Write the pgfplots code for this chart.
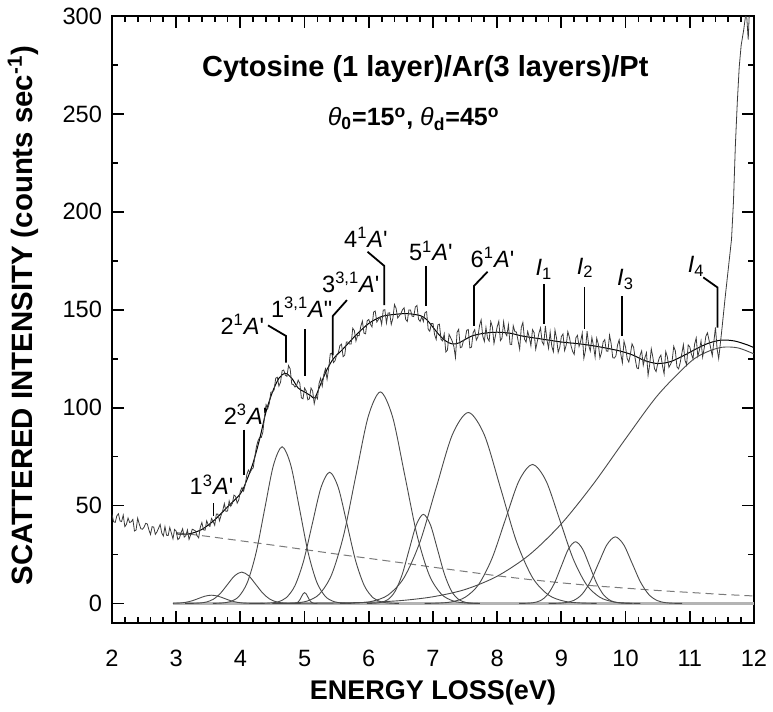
\documentclass[border=0pt]{standalone}
\usepackage{pgfplots}
\pgfplotsset{compat=1.18}
\usepackage{fontspec}
\setmainfont{Liberation Sans}[Ligatures=TeXOff]
\definecolor{datac}{HTML}{3A3A3A}
\definecolor{gc}{HTML}{4A4A4A}
\definecolor{bgc}{HTML}{7A7A7A}
\definecolor{basec}{HTML}{B4B4B4}
\newcommand{\lab}{\fontsize{11.8}{13}\selectfont}
\begin{document}
\begin{tikzpicture}
\useasboundingbox (-56pt,-44.5pt) rectangle (330.5pt,311.5pt);
\begin{axis}[
  at={(0,0)}, anchor=south west,
  scale only axis, width=321pt, height=303.5pt,
  xmin=2, xmax=12, ymin=-10, ymax=300,
  xtick={2,3,...,12}, minor x tick num=4,
  ytick={0,50,...,300}, minor y tick num=1,
  tick align=inside, tick pos=both,
  xticklabel pos=lower, yticklabel pos=left,
  major tick length=6pt, minor tick length=3.2pt,
  every tick/.append style={line width=0.9pt, black},
  axis line style={line width=1.2pt},
  /pgf/number format/assume math mode=true,
  tick label style={font=\fontsize{11.8}{13}\selectfont},
  xticklabel style={anchor=base, yshift=-22pt},
  yticklabel style={xshift=-1.5pt},
  xlabel={\bfseries ENERGY LOSS(eV)},
  ylabel={\bfseries SCATTERED INTENSITY (counts sec\textsuperscript{-1})},
  every axis x label/.style={at={(axis description cs:0.5,0)}, anchor=base, yshift=-38.5pt, font=\fontsize{13.5}{15}\selectfont},
  every axis y label/.style={at={(axis description cs:0,0.5)}, xshift=-44.5pt, yshift=2pt, rotate=90, anchor=center, font=\fontsize{14.7}{16}\selectfont},
  clip=true,
]
% baseline of components
\addplot[basec, line width=1.1pt] coordinates {(2.95,0) (12,0)};
% dashed background
\addplot[bgc, line width=0.5pt, dash pattern=on 4pt off 2.5pt] coordinates {
(3.0,36.2) (3.5,34.2) (4.0,32) (4.5,29.8) (5.0,27.5) (5.5,25.2) (6.0,23) (6.5,20.8) (7.0,18.5) (7.5,16.3) (8.0,14.1) (8.5,12.2) (9.0,10.5) (9.5,9) (10.0,7.8) (10.5,6.6) (11.0,5.6) (11.5,4.6) (12.0,3.8)};
% Gaussian components
\addplot[gc, line width=0.45pt, smooth] coordinates {
(2.95,0.05) (3.05,0.18) (3.15,0.57) (3.25,1.36) (3.35,2.55) (3.45,3.71) (3.55,4.2) (3.65,3.71) (3.75,2.55) (3.85,1.36) (3.95,0.57) (4.05,0.18) (4.15,0.05) (4.25,0.01) (4.35,0)};
\addplot[gc, line width=0.45pt, smooth] coordinates {
(3.14,0) (3.25,0.04) (3.36,0.18) (3.47,0.70) (3.58,2.16) (3.69,5.2) (3.80,9.7) (3.91,14.12) (4.02,16) (4.13,14.12) (4.24,9.7) (4.35,5.2) (4.46,2.16) (4.57,0.70) (4.68,0.18) (4.79,0.04) (4.90,0)};
\addplot[gc, line width=0.45pt, smooth] coordinates {
(3.57,0.02) (3.705,0.18) (3.84,0.89) (3.975,3.51) (4.11,10.82) (4.245,25.98) (4.38,48.52) (4.515,70.6) (4.65,80) (4.785,70.6) (4.92,48.52) (5.055,25.98) (5.19,10.82) (5.325,3.51) (5.46,0.89) (5.595,0.18) (5.73,0.02)};
\addplot[gc, line width=0.45pt, smooth] coordinates {
(4.80,0) (4.85,0.06) (4.875,0.24) (4.9,0.74) (4.925,1.79) (4.95,3.34) (4.975,4.85) (5.0,5.5) (5.025,4.85) (5.05,3.34) (5.075,1.79) (5.1,0.74) (5.125,0.24) (5.15,0.06) (5.2,0)};
\addplot[gc, line width=0.45pt, smooth] coordinates {
(4.31,0.02) (4.445,0.15) (4.58,0.74) (4.715,2.94) (4.85,9.07) (4.985,21.75) (5.12,40.64) (5.255,59.13) (5.39,67) (5.525,59.13) (5.66,40.64) (5.795,21.75) (5.93,9.07) (6.065,2.94) (6.2,0.74) (6.335,0.15) (6.47,0.02)};
\addplot[gc, line width=0.45pt, smooth] coordinates {
(4.66,0.03) (4.85,0.24) (5.04,1.2) (5.23,4.74) (5.42,14.61) (5.61,35.07) (5.8,65.5) (5.99,95.31) (6.18,108) (6.37,95.31) (6.56,65.5) (6.75,35.07) (6.94,14.61) (7.13,4.74) (7.32,1.2) (7.51,0.24) (7.70,0.03)};
\addplot[gc, line width=0.45pt, smooth] coordinates {
(5.97,0.01) (6.08,0.1) (6.19,0.51) (6.30,2.0) (6.41,6.16) (6.52,14.77) (6.63,27.6) (6.74,40.15) (6.85,45.5) (6.96,40.15) (7.07,27.6) (7.18,14.77) (7.29,6.16) (7.40,2.0) (7.51,0.51) (7.62,0.1) (7.73,0.01)};
\addplot[gc, line width=0.45pt, smooth] coordinates {
(5.55,0.03) (5.8,0.21) (6.05,1.08) (6.3,4.28) (6.55,13.19) (6.8,31.66) (7.05,59.13) (7.3,86.04) (7.55,97.5) (7.8,86.04) (8.05,59.13) (8.3,31.66) (8.55,13.19) (8.8,4.28) (9.05,1.08) (9.3,0.21) (9.55,0.03)};
\addplot[gc, line width=0.45pt, smooth] coordinates {
(6.87,0.02) (7.08,0.16) (7.29,0.79) (7.5,3.12) (7.71,9.61) (7.92,23.05) (8.13,43.06) (8.34,62.66) (8.55,71) (8.76,62.66) (8.97,43.06) (9.18,23.05) (9.39,9.61) (9.6,3.12) (9.81,0.79) (10.02,0.16) (10.23,0.02)};
\addplot[gc, line width=0.45pt, smooth] coordinates {
(8.34,0.01) (8.45,0.07) (8.56,0.35) (8.67,1.38) (8.78,4.26) (8.89,10.23) (9.0,19.1) (9.11,27.8) (9.22,31.5) (9.33,27.8) (9.44,19.1) (9.55,10.23) (9.66,4.26) (9.77,1.38) (9.88,0.35) (9.99,0.07) (10.10,0.01)};
\addplot[gc, line width=0.45pt, smooth] coordinates {
(8.8,0.01) (8.93,0.07) (9.06,0.38) (9.19,1.49) (9.32,4.6) (9.45,11.04) (9.58,20.62) (9.71,30.0) (9.84,34) (9.97,30.0) (10.1,20.62) (10.23,11.04) (10.36,4.6) (10.49,1.49) (10.62,0.38) (10.75,0.07) (10.88,0.01)};
\addplot[gc, line width=0.45pt, smooth] coordinates {
(4.5,0) (5.0,0.07) (5.5,0.21) (6.0,0.58) (6.5,1.45) (7.0,3.4) (7.5,7.1) (8.0,13.9) (8.5,24.8) (9.0,40.7) (9.5,61.1) (10.0,84.1) (10.5,106.3) (11.0,123.1) (11.25,128.2) (11.5,130.8) (11.75,130.5) (12.0,127.4)};
% fit
\addplot[black, line width=0.5pt, smooth] coordinates {
(3.0,35.5) (3.2,35.5) (3.4,37.8) (3.6,42.7) (3.8,49.3) (4.0,56) (4.1,63) (4.2,72) (4.3,84) (4.4,98) (4.5,108) (4.6,115) (4.7,117.5) (4.8,115) (4.9,110) (5.0,108) (5.1,106) (5.16,105) (5.25,112) (5.35,119.5) (5.45,125) (5.6,130) (5.8,137) (6.0,143) (6.2,146.5) (6.4,147.6) (6.6,148) (6.8,147) (6.9,145) (7.0,141) (7.1,137) (7.2,134) (7.3,132.5) (7.4,133) (7.6,136.5) (7.8,138) (8.0,138.5) (8.2,138) (8.4,136.5) (8.7,135) (9.0,133.5) (9.3,132.5) (9.6,131) (9.9,129) (10.1,127) (10.3,124) (10.5,122.5) (10.7,123.5) (10.9,126.5) (11.1,130) (11.3,133) (11.5,134.5) (11.7,134) (11.9,132) (12.0,130.6)};
% measured spectrum
\addplot[datac, line width=0.4pt] table {
2.000 45.4
2.025 41.7
2.050 41.4
2.075 44.7
2.100 45.8
2.125 42.1
2.150 41.8
2.175 45.1
2.200 39.2
2.225 40.4
2.250 43.6
2.275 41.3
2.300 41.7
2.325 42.9
2.350 37.0
2.375 37.5
2.400 43.5
2.425 40.5
2.450 38.1
2.475 37.9
2.500 39.0
2.525 40.9
2.550 40.6
2.575 37.6
2.600 35.2
2.625 39.2
2.650 39.0
2.675 35.3
2.700 36.5
2.725 38.4
2.750 40.3
2.775 36.0
2.800 34.4
2.825 39.2
2.850 34.8
2.875 34.7
2.900 38.8
2.925 35.9
2.950 33.0
2.975 37.8
3.000 36.9
3.025 32.6
3.050 33.3
3.075 36.1
3.100 38.1
3.125 33.9
3.150 34.6
3.175 37.5
3.200 32.7
3.225 35.0
3.250 37.9
3.275 37.5
3.300 37.0
3.325 34.6
3.350 33.5
3.375 38.8
3.400 41.3
3.425 37.6
3.450 37.4
3.475 42.2
3.500 40.0
3.525 39.3
3.550 43.4
3.575 42.0
3.600 39.9
3.625 45.6
3.650 45.6
3.675 42.2
3.700 45.1
3.725 47.4
3.750 51.0
3.775 47.0
3.800 47.2
3.825 52.3
3.850 49.6
3.875 51.1
3.900 55.3
3.925 54.7
3.950 51.2
3.975 52.9
4.000 57.4
4.025 59.2
4.050 57.4
4.075 60.6
4.100 65.8
4.125 68.1
4.150 66.8
4.175 68.4
4.200 69.2
4.225 75.0
4.250 80.1
4.275 83.1
4.300 84.7
4.325 84.7
4.350 87.5
4.375 95.2
4.400 101.5
4.425 99.4
4.450 102.1
4.475 107.9
4.500 108.0
4.525 109.0
4.550 115.0
4.575 115.5
4.600 111.0
4.625 112.9
4.650 118.8
4.675 119.2
4.700 116.5
4.725 116.0
4.750 121.5
4.775 119.8
4.800 112.0
4.825 111.8
4.850 110.5
4.875 111.3
4.900 114.0
4.925 112.5
4.950 105.0
4.975 104.5
5.000 110.0
5.025 108.5
5.050 104.0
5.075 104.5
5.100 110.0
5.125 108.5
5.150 102.0
5.175 105.8
5.200 104.5
5.225 112.3
5.250 115.0
5.275 111.0
5.300 117.0
5.325 119.8
5.350 114.5
5.375 120.0
5.400 127.5
5.425 127.8
5.450 123.0
5.475 124.0
5.500 127.0
5.525 127.9
5.550 131.7
5.575 132.4
5.600 126.0
5.625 126.8
5.650 133.5
5.675 133.5
5.700 132.5
5.725 132.5
5.750 140.5
5.775 139.3
5.800 134.0
5.825 136.9
5.850 136.7
5.875 141.5
5.900 144.2
5.925 138.0
5.950 137.7
5.975 144.4
6.000 145.0
6.025 142.6
6.050 141.2
6.075 148.8
6.100 149.3
6.125 143.7
6.150 145.0
6.175 146.3
6.200 142.5
6.225 149.8
6.250 150.0
6.275 143.2
6.300 148.3
6.325 148.4
6.350 142.5
6.375 145.6
6.400 152.6
6.425 150.7
6.450 145.8
6.475 146.9
6.500 148.0
6.525 150.0
6.550 151.0
6.575 145.0
6.600 144.0
6.625 149.9
6.650 149.8
6.675 146.7
6.700 146.5
6.725 151.4
6.750 152.2
6.775 145.1
6.800 144.0
6.825 146.5
6.850 144.0
6.875 148.5
6.900 149.0
6.925 140.0
6.950 139.0
6.975 143.0
7.000 143.0
7.025 137.2
7.050 134.8
7.075 142.2
7.100 142.6
7.125 134.9
7.150 134.1
7.175 137.6
7.200 128.4
7.225 129.4
7.250 137.4
7.275 135.7
7.300 133.9
7.325 131.2
7.350 125.6
7.375 138.4
7.400 140.0
7.425 130.6
7.450 131.0
7.475 134.3
7.500 134.8
7.525 139.5
7.550 139.9
7.575 130.5
7.600 130.9
7.625 138.2
7.650 139.8
7.675 134.5
7.700 136.1
7.725 141.9
7.750 144.8
7.775 136.5
7.800 133.8
7.825 140.9
7.850 135.4
7.875 134.0
7.900 143.9
7.925 141.2
7.950 132.8
7.975 137.1
8.000 141.3
8.025 144.1
8.050 134.2
8.075 135.5
8.100 143.8
8.125 138.2
8.150 136.7
8.175 142.3
8.200 132.4
8.225 132.2
8.250 141.8
8.275 138.8
8.300 138.6
8.325 134.2
8.350 129.8
8.375 140.9
8.400 143.5
8.425 135.0
8.450 133.4
8.475 138.9
8.500 135.9
8.525 131.6
8.550 139.8
8.575 138.3
8.600 129.8
8.625 133.9
8.650 138.0
8.675 140.7
8.700 133.6
8.725 132.1
8.750 141.7
8.775 134.6
8.800 130.3
8.825 138.6
8.850 131.4
8.875 128.5
8.900 139.6
8.925 135.3
8.950 128.2
8.975 130.9
9.000 136.3
9.025 137.6
9.050 129.1
9.075 131.9
9.100 138.8
9.125 135.9
9.150 131.6
9.175 128.7
9.200 127.2
9.225 135.6
9.250 136.9
9.275 131.2
9.300 133.9
9.325 138.0
9.350 125.2
9.375 129.3
9.400 139.0
9.425 131.9
9.450 128.9
9.475 135.8
9.500 131.5
9.525 125.8
9.550 135.4
9.575 132.5
9.600 125.4
9.625 128.1
9.650 133.5
9.675 134.7
9.700 128.9
9.725 128.8
9.750 137.0
9.775 132.7
9.800 125.5
9.825 125.3
9.850 126.5
9.875 132.0
9.900 134.6
9.925 127.4
9.950 122.9
9.975 133.9
10.000 130.8
10.025 125.0
10.050 123.3
10.075 127.3
10.100 132.6
10.125 130.8
10.150 124.8
10.175 120.3
10.200 119.9
10.225 126.6
10.250 129.0
10.275 121.6
10.300 125.4
10.325 128.0
10.350 116.5
10.375 121.9
10.400 130.0
10.425 125.7
10.450 119.9
10.475 118.4
10.500 122.5
10.525 125.4
10.550 126.8
10.575 121.3
10.600 117.2
10.625 128.6
10.650 126.0
10.675 120.6
10.700 122.1
10.725 123.9
10.750 131.3
10.775 128.9
10.800 120.8
10.825 119.8
10.850 122.9
10.875 127.5
10.900 132.1
10.925 124.2
10.950 121.8
10.975 132.0
11.000 131.0
11.025 127.3
11.050 124.9
11.075 132.4
11.100 135.6
11.125 126.2
11.150 129.4
11.175 134.0
11.200 125.9
11.225 130.5
11.250 136.4
11.275 138.2
11.300 134.4
11.325 130.5
11.350 126.5
11.375 133.8
11.400 141.0
11.425 130.0
11.450 125.0
11.500 140.0
11.550 156.0
11.600 171.0
11.650 186.0
11.680 205.0
11.710 234.0
11.740 256.0
11.770 274.0
11.800 285.0
11.840 293.0
11.880 303.0
11.910 288.0
11.940 312.0
12.000 330.0
};
% titles
\node[anchor=base, font=\fontsize{14.5}{16}\selectfont\bfseries] at (axis cs:6.88,269.1) {Cytosine (1 layer)/Ar(3 layers)/Pt};
\node[anchor=base, font=\fontsize{12.5}{14}\selectfont\bfseries] at (axis cs:6.7,243.9) {\textmd{\textit{θ}}\textsubscript{0}=15\textsuperscript{o}, \textmd{\textit{θ}}\textsubscript{d}=45\textsuperscript{o}};
% state labels
\begin{scope}[line width=0.9pt]
\draw (axis cs:3.58,51.2) -- (axis cs:3.58,44.4);
\draw (axis cs:4.06,88.8) -- (axis cs:4.06,65.7);
\draw (axis cs:4.43,142) -- (axis cs:4.71,136.6) -- (axis cs:4.71,123);
\draw (axis cs:5.01,140) -- (axis cs:5.01,116.1);
\draw (axis cs:5.66,154.9) -- (axis cs:5.44,146.8) -- (axis cs:5.44,126.7);
\draw (axis cs:5.98,179.6) -- (axis cs:6.24,172.4) -- (axis cs:6.24,152.3);
\draw (axis cs:6.89,172.4) -- (axis cs:6.89,152);
\draw (axis cs:7.85,169.4) -- (axis cs:7.64,162.2) -- (axis cs:7.64,141.7);
\draw (axis cs:8.73,163) -- (axis cs:8.73,142.6);
\draw (axis cs:9.36,161.4) -- (axis cs:9.36,140);
\draw (axis cs:9.95,157) -- (axis cs:9.95,136.6);
\draw (axis cs:11.21,166.5) -- (axis cs:11.43,161.4) -- (axis cs:11.43,140.9);
\end{scope}
\node[anchor=base, inner sep=0pt, font=\lab] at (axis cs:3.55,55.5) {1\textsuperscript{3}\textit{A}'};
\node[anchor=base, inner sep=0pt, font=\lab] at (axis cs:4.08,91.4) {2\textsuperscript{3}\textit{A}'};
\node[anchor=base, inner sep=0pt, font=\lab] at (axis cs:4.03,137.4) {2\textsuperscript{1}\textit{A}'};
\node[anchor=base, inner sep=0pt, font=\lab] at (axis cs:4.955,146) {1\textsuperscript{3,1}\textit{A}"};
\node[anchor=base, inner sep=0pt, font=\lab] at (axis cs:5.72,158.8) {3\textsuperscript{3,1}\textit{A}'};
\node[anchor=base, inner sep=0pt, font=\lab] at (axis cs:5.955,181.9) {4\textsuperscript{1}\textit{A}'};
\node[anchor=base, inner sep=0pt, font=\lab] at (axis cs:6.966,175) {5\textsuperscript{1}\textit{A}'};
\node[anchor=base, inner sep=0pt, font=\lab] at (axis cs:7.927,171.6) {6\textsuperscript{1}\textit{A}'};
\node[anchor=base, inner sep=0pt, font=\lab] at (axis cs:8.73,167.3) {\textit{I}\textsubscript{1}};
\node[anchor=base, inner sep=0pt, font=\lab] at (axis cs:9.37,168.2) {\textit{I}\textsubscript{2}};
\node[anchor=base, inner sep=0pt, font=\lab] at (axis cs:10.0,162.2) {\textit{I}\textsubscript{3}};
\node[anchor=base, inner sep=0pt, font=\lab] at (axis cs:11.1,169) {\textit{I}\textsubscript{4}};
\end{axis}
\end{tikzpicture}
\end{document}
